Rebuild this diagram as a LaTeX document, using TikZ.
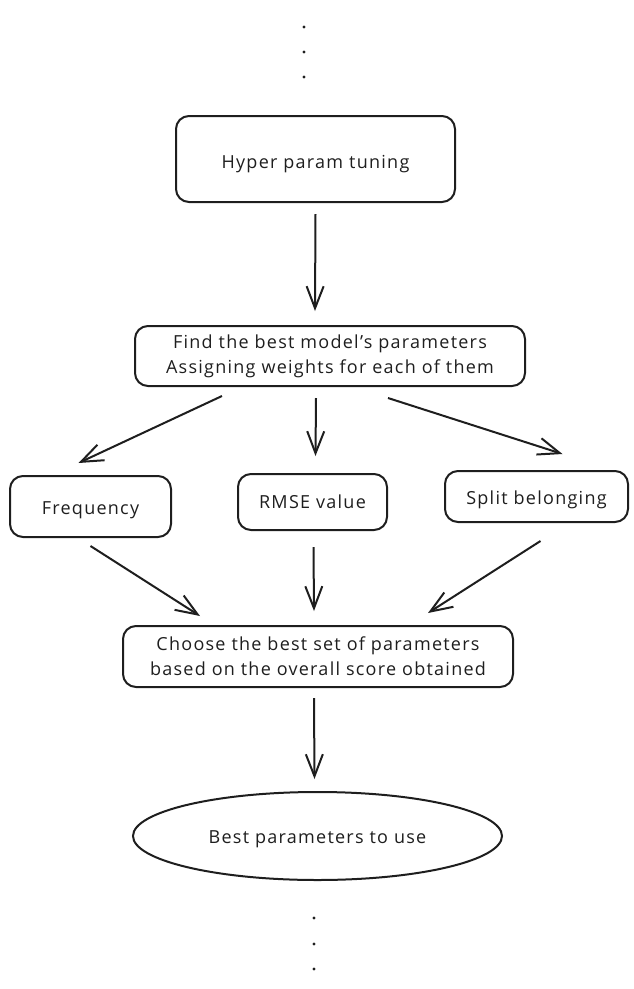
\documentclass[tikz,border=0pt]{standalone}
\usepackage{fontspec}
\setmainfont{Open Sans}[LetterSpace=7]
\usetikzlibrary{arrows.meta,shapes.geometric,calc}
\definecolor{ink}{HTML}{1E1E1E}
\newcommand{\lowertext}[2]{\raisebox{-#1}[\height][\depth]{#2}}
\tikzset{
  box/.style={draw=ink, line width=2pt, rounded corners=13pt, align=center, text=ink, inner sep=0pt, font=\fontsize{18}{25}\selectfont},
  oval/.style={draw=ink, line width=2pt, ellipse, align=center, text=ink, inner sep=0pt, font=\fontsize{18}{25}\selectfont},
  arr/.style={draw=ink, line width=2pt, -{Straight Barb[length=22pt,width=17pt,line width=2pt]}},
  dot/.style={fill=ink}
}
\begin{document}
\begin{tikzpicture}[x=1pt,y=-1pt]
\useasboundingbox (0,0) rectangle (634,989);
% top dots
\fill[dot] (304,27) circle (1.7);
\fill[dot] (304,52) circle (1.7);
\fill[dot] (304,77) circle (1.7);
% nodes
\node[box, minimum width=279pt, minimum height=86pt] (hp) at (315.5,159) {\lowertext{5pt}{Hyper param tuning}};
\node[box, minimum width=390pt, minimum height=60pt] (fb) at (330,356) {Find the best model's parameters\\Assigning weights for each of them};
\node[box, minimum width=161pt, minimum height=61pt] (fr) at (90.5,506.5) {\lowertext{4pt}{Frequency}};
\node[box, minimum width=149pt, minimum height=56pt] (rm) at (312.5,502) {RMSE value};
\node[box, minimum width=183pt, minimum height=51pt] (sp) at (536.5,496.5) {\lowertext{3pt}{Split belonging}};
\node[box, minimum width=390pt, minimum height=61pt] (ch) at (318,656.5) {Choose the best set of parameters\\based on the overall score obtained};
\node[oval, minimum width=369pt, minimum height=88pt] (bp) at (317.5,836) {\lowertext{3pt}{Best parameters to use}};
% bottom dots
\fill[dot] (314,918) circle (1.7);
\fill[dot] (314,944) circle (1.7);
\fill[dot] (314,969) circle (1.7);
% connectors
\draw[arr] ($(hp.south)+(0,11)$) -- ($(fb.north)+(-15,-14)$);
\draw[arr] ($(fb.south)+(-108,9)$) -- ($(fr.north)+(-12,-12)$);
\draw[arr] ($(fb.south)+(-14,11)$) -- ($(rm.north)+(3,-17)$);
\draw[arr] ($(fb.south)+(58,11)$) -- ($(sp.north)+(26,-16)$);
\draw[arr] ($(fr.south)+(0,8)$) -- ($(ch.north)+(-118,-9)$);
\draw[arr] ($(rm.south)+(1,16)$) -- ($(ch.north)+(-4,-14)$);
\draw[arr] ($(sp.south)+(4,18)$) -- ($(ch.north)+(110,-12)$);
\draw[arr] ($(ch.south)+(-4,10)$) -- ($(bp.north)+(-3,-12)$);
\end{tikzpicture}
\end{document}
